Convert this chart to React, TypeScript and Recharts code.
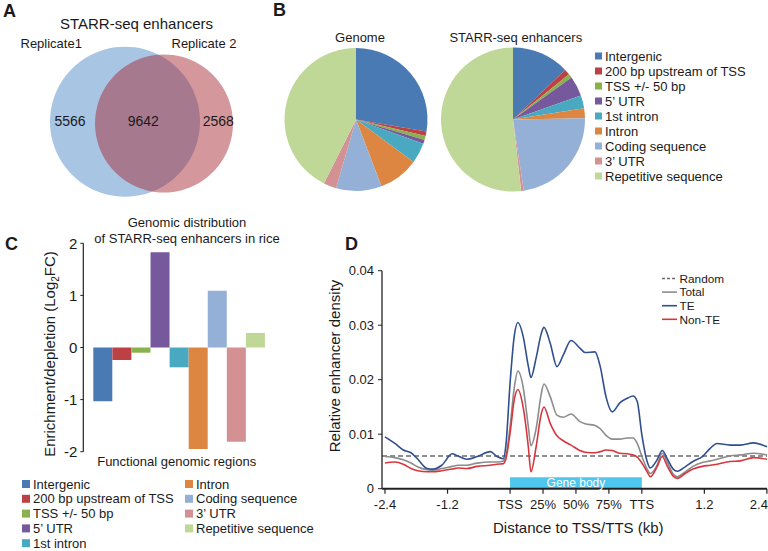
import React from 'react';
import {
  PieChart, Pie, Cell, BarChart, Bar, XAxis, YAxis, LineChart, Line,
  ReferenceLine, ReferenceArea, Legend,
} from 'recharts';

const FONT = '"Liberation Sans", Arial, Helvetica, sans-serif';
const INK = '#1a1a1a';

// ---------- Panel A: Venn ----------
const vennTitle = 'STARR-seq enhancers';
const vennSets = ['Replicate1', 'Replicate 2'];
const vennCounts = [5566, 9642, 2568]; // only rep1, shared, only rep2
const vennColors = ['#a8c5e3', '#a72a35'];

// ---------- Panel B / C: genomic regions ----------
const regionNames = [
  'Intergenic', '200 bp upstream of TSS', 'TSS +/- 50 bp', '5\u2019 UTR', '1st intron',
  'Intron', 'Coding sequence', '3\u2019 UTR', 'Repetitive sequence',
];
const regionColors = [
  '#4a7ab4', '#bd4045', '#8ab24c', '#76589c', '#49a9c1',
  '#dc8641', '#94b0d6', '#d49194', '#bfd898',
];
const genomePct = [27.7, 1.0, 0.9, 0.9, 4.6, 9.1, 10.3, 2.9, 42.6];
const enhancerPct = [12.9, 1.3, 0.9, 4.5, 2.9, 2.2, 22.9, 0.6, 51.8];
const log2FC = [-1.03, -0.24, -0.1, 1.83, -0.38, -1.95, 1.09, -1.81, 0.28];
const cTicks = [-2, -1, 0, 1, 2];

// ---------- Panel D: metagene profile ----------
const dPositions = [
  -2.4, -2.21, -2.05, -1.9, -1.77, -1.59, -1.48, -1.31, -1.11, -1.0, -0.83, -0.63, -0.38, -0.25, -0.13, -0.08,
  0.0, 0.08, 0.15, 0.25, 0.35, 0.4, 0.5, 0.6, 0.65, 0.77, 0.9, 1.02, 1.17, 1.34, 1.44, 1.63, 1.73, 1.84, 1.96,
  2.11, 2.25, 2.36, 2.44, 2.53, 2.63, 2.69, 2.82, 2.92, 3.01, 3.13, 3.21, 3.36, 3.51, 3.69, 3.84, 3.97, 4.22,
  4.42, 4.67, 4.93,
];
const teDensity = [
  0.0095, 0.0083, 0.0071, 0.0066, 0.0054, 0.0037, 0.0036, 0.0043, 0.0064, 0.006, 0.0054, 0.0059, 0.0068, 0.0059, 0.0055, 0.008,
  0.0194, 0.028, 0.0305, 0.028, 0.0225, 0.0204, 0.024, 0.0285, 0.0296, 0.0267, 0.0224, 0.0245, 0.0272, 0.0258, 0.025, 0.0251, 0.0224, 0.0169, 0.0141,
  0.0158, 0.0166, 0.017, 0.016, 0.0098, 0.005, 0.0038, 0.0053, 0.007, 0.0056, 0.0036, 0.0032, 0.004, 0.005, 0.0059, 0.0074, 0.0083, 0.008,
  0.008, 0.0084, 0.0077,
];
const totalDensity = [
  0.0059, 0.0057, 0.0053, 0.0047, 0.004, 0.0035, 0.0034, 0.0037, 0.0041, 0.0043, 0.0043, 0.0047, 0.0049, 0.0049, 0.0051, 0.006,
  0.0114, 0.0185, 0.0216, 0.0187, 0.0114, 0.0079, 0.011, 0.0175, 0.0192, 0.0169, 0.0135, 0.0131, 0.0137, 0.0123, 0.0119, 0.0116, 0.011, 0.0098, 0.0091,
  0.0091, 0.0093, 0.0093, 0.0083, 0.0059, 0.0036, 0.0028, 0.0043, 0.0065, 0.005, 0.0027, 0.0022, 0.0031, 0.0041, 0.0048, 0.0051, 0.0054, 0.006,
  0.0062, 0.0065, 0.0062,
];
const nonTeDensity = [
  0.0047, 0.0049, 0.0045, 0.0037, 0.0033, 0.0031, 0.0031, 0.0033, 0.0036, 0.0038, 0.0037, 0.0041, 0.0043, 0.0045, 0.0046, 0.0055,
  0.0102, 0.0163, 0.0182, 0.015, 0.0077, 0.0031, 0.0077, 0.0138, 0.015, 0.012, 0.0097, 0.0088, 0.008, 0.007, 0.0067, 0.0066, 0.0068, 0.0071, 0.007,
  0.0065, 0.0064, 0.0062, 0.0058, 0.0047, 0.0031, 0.0022, 0.004, 0.0059, 0.0043, 0.0023, 0.0019, 0.0028, 0.0036, 0.0041, 0.0043, 0.0045, 0.005,
  0.0051, 0.0057, 0.0054,
];
const randomDensity = 0.006;
const dTickPos = [-2.4, -1.2, 0, 0.632, 1.264, 1.896, 2.528, 3.728, 4.928];
const dTickLabels = ['-2.4', '-1.2', 'TSS', '25%', '50%', '75%', 'TTS', '1.2', '2.4'];
const dYTicks = [0, 0.01, 0.02, 0.03, 0.04];
const geneBodySpan = [0, 2.528];
const dSeries = [
  { key: 'random', name: 'Random', color: '#6b6b6b', dashed: true },
  { key: 'total', name: 'Total', color: '#8c8c8c', dashed: false },
  { key: 'te', name: 'TE', color: '#2f4f8e', dashed: false },
  { key: 'nonte', name: 'Non-TE', color: '#d8363f', dashed: false },
];

const vennRep1 = [{ name: vennSets[0], value: vennCounts[0] + vennCounts[1] }];
const vennRep2 = [{ name: vennSets[1], value: vennCounts[1] + vennCounts[2] }];
const genomeData = regionNames.map((n, i) => ({ name: n, value: genomePct[i] }));
const enhancerData = regionNames.map((n, i) => ({ name: n, value: enhancerPct[i] }));
const fcData = regionNames.map((n, i) => ({ name: n, value: log2FC[i] }));
const profileData = dPositions.map((p, i) => ({
  pos: p, total: totalDensity[i], te: teDensity[i], nonte: nonTeDensity[i],
}));

const RegionLegendB = () => (
  <svg width={173} height={140} style={{ display: 'block' }}>
    {regionNames.map((n, i) => (
      <g key={n}>
        <rect x={0} y={8 + 15 * i - 3.5} width={7} height={7} fill={regionColors[i]} />
        <text x={10} y={8 + 15 * i + 4.6} fontSize={13} fontFamily={FONT} fill={INK}>{n}</text>
      </g>
    ))}
  </svg>
);

const RegionLegendC = () => (
  <svg width={310} height={78} style={{ display: 'block' }}>
    {regionNames.map((n, i) => {
      const col = i < 5 ? 0 : 1;
      const row = i < 5 ? i : i - 5;
      const x0 = col === 0 ? 2 : 165;
      const cy = 9 + 14.8 * row;
      return (
        <g key={n}>
          <rect x={x0} y={cy - 4} width={8} height={8} fill={regionColors[i]} />
          <text x={x0 + 11} y={cy + 4.6} fontSize={13} fontFamily={FONT} fill={INK}>{n}</text>
        </g>
      );
    })}
  </svg>
);

const ProfileLegend = () => (
  <svg width={107} height={62} style={{ display: 'block' }}>
    {dSeries.map((s, i) => {
      const cy = 8.5 + 13.6 * i;
      return (
        <g key={s.key}>
          <line x1={1} x2={16} y1={cy} y2={cy} stroke={s.color} strokeWidth={1.6}
            strokeDasharray={s.dashed ? '3 2' : undefined} />
          <text x={18.5} y={cy + 4.2} fontSize={11.8} fontFamily={FONT} fill={INK}>{s.name}</text>
        </g>
      );
    })}
  </svg>
);

const DXTick = (props: any) => {
  const { x, y, payload } = props;
  const i = dTickPos.findIndex((p) => Math.abs(p - payload.value) < 1e-6);
  const label = i >= 0 ? dTickLabels[i] : '';
  const last = i === dTickPos.length - 1;
  return (
    <text x={last ? x + 1 : x} y={y} dy="0.71em" textAnchor={last ? 'end' : 'middle'}
      fontSize={13} fill={INK} fontFamily={FONT}>{label}</text>
  );
};

export default function App() {
  return (
    <div style={{ position: 'absolute', left: 0, top: 0, width: 768, height: 551, background: '#fff', fontFamily: FONT, overflow: 'hidden' }}>
      {/* Panel A */}
      <div style={{ position: 'absolute', left: 0, top: 0 }}>
        <PieChart width={260} height={200} margin={{ top: 0, right: 0, bottom: 0, left: 0 }}>
          <Pie data={vennRep1} dataKey="value" cx={125} cy={121.7} outerRadius={75} startAngle={90} endAngle={-270}
            stroke="none" isAnimationActive={false}>
            <Cell fill={vennColors[0]} />
          </Pie>
          <Pie data={vennRep2} dataKey="value" cx={164} cy={123.5} outerRadius={69} startAngle={90} endAngle={-270}
            stroke="none" isAnimationActive={false}>
            <Cell fill={vennColors[1]} fillOpacity={0.49} />
          </Pie>
        </PieChart>
      </div>

      {/* Panel B */}
      <div style={{ position: 'absolute', left: 260, top: 0 }}>
        <PieChart width={508} height={200} margin={{ top: 0, right: 0, bottom: 0, left: 0 }}>
          <Pie data={genomeData} dataKey="value" cx={96} cy={119.5} outerRadius={71.5} startAngle={90} endAngle={-270}
            stroke="none" isAnimationActive={false}>
            {genomeData.map((d, i) => <Cell key={d.name} fill={regionColors[i]} />)}
          </Pie>
          <Pie data={enhancerData} dataKey="value" cx={253} cy={119.5} outerRadius={72} startAngle={90} endAngle={-270}
            stroke="none" isAnimationActive={false}>
            {enhancerData.map((d, i) => <Cell key={d.name} fill={regionColors[i]} />)}
          </Pie>
          <Legend layout="horizontal" verticalAlign="middle" align="center" content={() => <RegionLegendB />}
            wrapperStyle={{ left: 335, top: 48, width: 173, height: 140 }} />
        </PieChart>
      </div>

      {/* Panel C */}
      <div style={{ position: 'absolute', left: 0, top: 220 }}>
        <BarChart width={330} height={331} data={fcData} barCategoryGap={0} barGap={0}
          margin={{ top: 23.3, right: 55, bottom: 99.3, left: 0 }}>
          <XAxis dataKey="name" hide padding={{ left: 10, right: 10 }} />
          <YAxis domain={[-2, 2]} ticks={cTicks} interval={0} width={83.3}
            tick={{ fontSize: 15, fill: INK }} tickSize={3} tickMargin={3}
            axisLine={{ stroke: '#222', strokeWidth: 1.2 }} tickLine={{ stroke: '#222' }} />
          <Bar dataKey="value" isAnimationActive={false}>
            {fcData.map((d, i) => <Cell key={d.name} fill={regionColors[i]} />)}
          </Bar>
          <Legend layout="horizontal" verticalAlign="middle" align="center" content={() => <RegionLegendC />}
            wrapperStyle={{ left: 20, top: 255, width: 310, height: 78 }} />
        </BarChart>
      </div>

      {/* Panel D */}
      <div style={{ position: 'absolute', left: 330, top: 250 }}>
        <LineChart width={438} height={301} data={profileData}
          margin={{ top: 20.7, right: 1, bottom: 32.3, left: 0 }}>
          <XAxis dataKey="pos" type="number" domain={[-2.4, 4.93]} ticks={dTickPos} interval={0}
            tick={<DXTick />} padding={{ left: 3, right: 0 }} height={30}
            tickSize={5} tickMargin={6}
            axisLine={{ stroke: '#222', strokeWidth: 2 }} tickLine={{ stroke: '#222', strokeWidth: 1.2 }} />
          <YAxis domain={[0, 0.04]} ticks={dYTicks} interval={0} width={52}
            tickFormatter={(v: number) => (v === 0 ? '0' : v.toFixed(2))}
            tick={{ fontSize: 13, fill: INK }} tickSize={4} tickMargin={4}
            axisLine={{ stroke: '#222', strokeWidth: 1.3 }} tickLine={{ stroke: '#222' }} />
          <ReferenceArea x1={geneBodySpan[0]} x2={geneBodySpan[1]} y1={0} y2={0.0021}
            fill="#4fc6ee" fillOpacity={1} stroke="none"
            label={{ value: 'Gene body', fill: '#ffffff', fontSize: 12, position: 'center' }} />
          <ReferenceLine y={randomDensity} stroke="#6b6b6b" strokeWidth={1.4} strokeDasharray="5 3" />
          <Line dataKey="total" type="monotone" stroke="#8c8c8c" strokeWidth={1.6} dot={false} isAnimationActive={false} />
          <Line dataKey="te" type="monotone" stroke="#2f4f8e" strokeWidth={1.6} dot={false} isAnimationActive={false} />
          <Line dataKey="nonte" type="monotone" stroke="#d8363f" strokeWidth={1.6} dot={false} isAnimationActive={false} />
          <Legend layout="horizontal" verticalAlign="middle" align="center" content={() => <ProfileLegend />}
            wrapperStyle={{ left: 331, top: 20, width: 107, height: 62 }} />
        </LineChart>
      </div>

      {/* Text overlay */}
      <svg width={768} height={551} style={{ position: 'absolute', left: 0, top: 0, pointerEvents: 'none' }}
        fontFamily={FONT} fill={INK}>
        <text x={3} y={17} fontSize={18} fontWeight="bold">A</text>
        <text x={136.5} y={28.5} fontSize={15} textAnchor="middle">{vennTitle}</text>
        <text x={20.5} y={48} fontSize={13}>{vennSets[0]}</text>
        <text x={171.5} y={48} fontSize={13}>{vennSets[1]}</text>
        <text x={70} y={126} fontSize={14} textAnchor="middle">{vennCounts[0]}</text>
        <text x={143.3} y={126} fontSize={14} textAnchor="middle">{vennCounts[1]}</text>
        <text x={218.3} y={126} fontSize={14} textAnchor="middle">{vennCounts[2]}</text>

        <text x={273} y={16} fontSize={18} fontWeight="bold">B</text>
        <text x={360} y={41.7} fontSize={13} textAnchor="middle">Genome</text>
        <text x={515.8} y={41.7} fontSize={13} textAnchor="middle">STARR-seq enhancers</text>

        <text x={5} y={250} fontSize={18} fontWeight="bold">C</text>
        <text x={187} y={227} fontSize={13} textAnchor="middle">Genomic distribution</text>
        <text x={187} y={242.7} fontSize={13} textAnchor="middle">of STARR-seq enhancers in rice</text>
        <text transform="translate(54.5,354) rotate(-90)" fontSize={15} textAnchor="middle">
          Enrichment/depletion (Log<tspan fontSize={10} dy={4}>2</tspan><tspan dy={-4}>FC)</tspan>
        </text>
        <text x={176.7} y={466} fontSize={13} textAnchor="middle">Functional genomic regions</text>

        <text x={345} y={250} fontSize={18} fontWeight="bold">D</text>
        <text transform="translate(339.5,366) rotate(-90)" fontSize={15} textAnchor="middle">Relative enhancer density</text>
        <text x={578.3} y={533} fontSize={15} textAnchor="middle">Distance to TSS/TTS (kb)</text>
      </svg>
    </div>
  );
}
